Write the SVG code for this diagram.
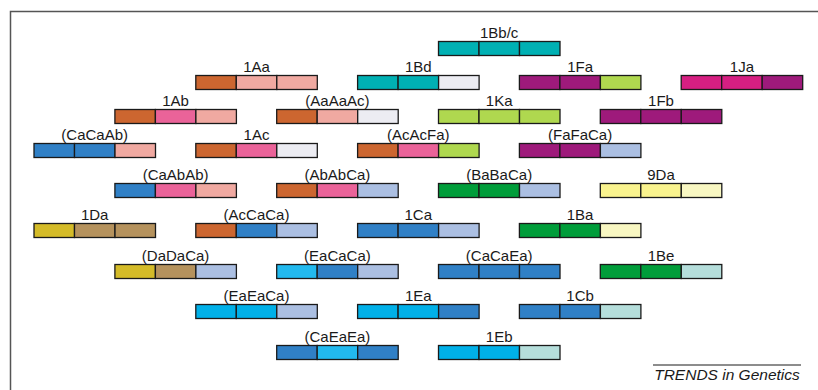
<svg xmlns="http://www.w3.org/2000/svg" width="818" height="390" viewBox="0 0 818 390">
<style>
text{font-family:"Liberation Sans",Arial,sans-serif;font-size:15px;fill:#1a1a1a;text-anchor:middle}
rect{stroke:#1a1a1a;stroke-width:1.3}
.or{fill:#cc6630}.sa{fill:#f0a9a1}.pk{fill:#ea6399}.gw{fill:#ececf2}
.te{fill:#00b0b3}.pu{fill:#9e1a7b}.li{fill:#afd84f}.mg{fill:#d61f82}
.bl{fill:#3080c6}.lv{fill:#abbfe2}.gr{fill:#009d3a}.ye{fill:#f9f38e}.py{fill:#f8f7c2}
.mu{fill:#d4bb28}.tn{fill:#b5925d}.cy{fill:#00b0e8}.lc{fill:#22b9ee}.pt{fill:#b5dedb}
</style>
<g id="frame" fill="none" stroke="#555" stroke-width="1.5">
<path d="M10.5 390V11.5H818"/>
</g>
<g id="connectors"></g>
<g id="n1Bbc"><text x="499.2" y="38">1Bb/c</text><rect class="te" x="438.5" y="41.5" width="40.5" height="14"/><rect class="te" x="479" y="41.5" width="40.5" height="14"/><rect class="te" x="519.5" y="41.5" width="40.5" height="14"/></g>
<g id="n1Aa"><text x="256.5" y="72">1Aa</text><rect class="or" x="195.8" y="75.5" width="40.5" height="14"/><rect class="sa" x="236.3" y="75.5" width="40.5" height="14"/><rect class="sa" x="276.8" y="75.5" width="40.5" height="14"/></g>
<g id="n1Bd"><text x="418.3" y="72">1Bd</text><rect class="te" x="357.6" y="75.5" width="40.5" height="14"/><rect class="te" x="398.1" y="75.5" width="40.5" height="14"/><rect class="gw" x="438.6" y="75.5" width="40.5" height="14"/></g>
<g id="n1Fa"><text x="580.1" y="72">1Fa</text><rect class="pu" x="519.4" y="75.5" width="40.5" height="14"/><rect class="pu" x="559.9" y="75.5" width="40.5" height="14"/><rect class="li" x="600.4" y="75.5" width="40.5" height="14"/></g>
<g id="n1Ja"><text x="741.9" y="72">1Ja</text><rect class="mg" x="681.2" y="75.5" width="40.5" height="14"/><rect class="mg" x="721.7" y="75.5" width="40.5" height="14"/><rect class="pu" x="762.2" y="75.5" width="40.5" height="14"/></g>
<g id="n1Ab"><text x="175.6" y="106">1Ab</text><rect class="or" x="114.9" y="109.5" width="40.5" height="14"/><rect class="pk" x="155.4" y="109.5" width="40.5" height="14"/><rect class="sa" x="195.9" y="109.5" width="40.5" height="14"/></g>
<g id="nAaAaAc"><text x="337.4" y="106">(AaAaAc)</text><rect class="or" x="276.7" y="109.5" width="40.5" height="14"/><rect class="sa" x="317.2" y="109.5" width="40.5" height="14"/><rect class="gw" x="357.7" y="109.5" width="40.5" height="14"/></g>
<g id="n1Ka"><text x="499.2" y="106">1Ka</text><rect class="li" x="438.5" y="109.5" width="40.5" height="14"/><rect class="li" x="479" y="109.5" width="40.5" height="14"/><rect class="li" x="519.5" y="109.5" width="40.5" height="14"/></g>
<g id="n1Fb"><text x="661" y="106">1Fb</text><rect class="pu" x="600.3" y="109.5" width="40.5" height="14"/><rect class="pu" x="640.8" y="109.5" width="40.5" height="14"/><rect class="pu" x="681.3" y="109.5" width="40.5" height="14"/></g>
<g id="nCaCaAb"><text x="94.7" y="140">(CaCaAb)</text><rect class="bl" x="34" y="143.5" width="40.5" height="14"/><rect class="bl" x="74.5" y="143.5" width="40.5" height="14"/><rect class="sa" x="115" y="143.5" width="40.5" height="14"/></g>
<g id="n1Ac"><text x="256.5" y="140">1Ac</text><rect class="or" x="195.8" y="143.5" width="40.5" height="14"/><rect class="pk" x="236.3" y="143.5" width="40.5" height="14"/><rect class="gw" x="276.8" y="143.5" width="40.5" height="14"/></g>
<g id="nAcAcFa"><text x="418.3" y="140">(AcAcFa)</text><rect class="or" x="357.6" y="143.5" width="40.5" height="14"/><rect class="pk" x="398.1" y="143.5" width="40.5" height="14"/><rect class="li" x="438.6" y="143.5" width="40.5" height="14"/></g>
<g id="nFaFaCa"><text x="580.1" y="140">(FaFaCa)</text><rect class="pu" x="519.4" y="143.5" width="40.5" height="14"/><rect class="pu" x="559.9" y="143.5" width="40.5" height="14"/><rect class="lv" x="600.4" y="143.5" width="40.5" height="14"/></g>
<g id="nCaAbAb"><text x="175.6" y="180">(CaAbAb)</text><rect class="bl" x="114.9" y="183.5" width="40.5" height="14"/><rect class="pk" x="155.4" y="183.5" width="40.5" height="14"/><rect class="sa" x="195.9" y="183.5" width="40.5" height="14"/></g>
<g id="nAbAbCa"><text x="337.4" y="180">(AbAbCa)</text><rect class="or" x="276.7" y="183.5" width="40.5" height="14"/><rect class="pk" x="317.2" y="183.5" width="40.5" height="14"/><rect class="lv" x="357.7" y="183.5" width="40.5" height="14"/></g>
<g id="nBaBaCa"><text x="499.2" y="180">(BaBaCa)</text><rect class="gr" x="438.5" y="183.5" width="40.5" height="14"/><rect class="gr" x="479" y="183.5" width="40.5" height="14"/><rect class="lv" x="519.5" y="183.5" width="40.5" height="14"/></g>
<g id="n9Da"><text x="661" y="180">9Da</text><rect class="ye" x="600.3" y="183.5" width="40.5" height="14"/><rect class="ye" x="640.8" y="183.5" width="40.5" height="14"/><rect class="py" x="681.3" y="183.5" width="40.5" height="14"/></g>
<g id="n1Da"><text x="94.7" y="220">1Da</text><rect class="mu" x="34" y="223.5" width="40.5" height="14"/><rect class="tn" x="74.5" y="223.5" width="40.5" height="14"/><rect class="tn" x="115" y="223.5" width="40.5" height="14"/></g>
<g id="nAcCaCa"><text x="256.5" y="220">(AcCaCa)</text><rect class="or" x="195.8" y="223.5" width="40.5" height="14"/><rect class="bl" x="236.3" y="223.5" width="40.5" height="14"/><rect class="lv" x="276.8" y="223.5" width="40.5" height="14"/></g>
<g id="n1Ca"><text x="418.3" y="220">1Ca</text><rect class="bl" x="357.6" y="223.5" width="40.5" height="14"/><rect class="bl" x="398.1" y="223.5" width="40.5" height="14"/><rect class="lv" x="438.6" y="223.5" width="40.5" height="14"/></g>
<g id="n1Ba"><text x="580.1" y="220">1Ba</text><rect class="gr" x="519.4" y="223.5" width="40.5" height="14"/><rect class="gr" x="559.9" y="223.5" width="40.5" height="14"/><rect class="py" x="600.4" y="223.5" width="40.5" height="14"/></g>
<g id="nDaDaCa"><text x="175.6" y="261">(DaDaCa)</text><rect class="mu" x="114.9" y="264.5" width="40.5" height="14"/><rect class="tn" x="155.4" y="264.5" width="40.5" height="14"/><rect class="lv" x="195.9" y="264.5" width="40.5" height="14"/></g>
<g id="nEaCaCa"><text x="337.4" y="261">(EaCaCa)</text><rect class="lc" x="276.7" y="264.5" width="40.5" height="14"/><rect class="bl" x="317.2" y="264.5" width="40.5" height="14"/><rect class="lv" x="357.7" y="264.5" width="40.5" height="14"/></g>
<g id="nCaCaEa"><text x="499.2" y="261">(CaCaEa)</text><rect class="bl" x="438.5" y="264.5" width="40.5" height="14"/><rect class="bl" x="479" y="264.5" width="40.5" height="14"/><rect class="bl" x="519.5" y="264.5" width="40.5" height="14"/></g>
<g id="n1Be"><text x="661" y="261">1Be</text><rect class="gr" x="600.3" y="264.5" width="40.5" height="14"/><rect class="gr" x="640.8" y="264.5" width="40.5" height="14"/><rect class="pt" x="681.3" y="264.5" width="40.5" height="14"/></g>
<g id="nEaEaCa"><text x="256.5" y="301">(EaEaCa)</text><rect class="cy" x="195.8" y="304.5" width="40.5" height="14"/><rect class="cy" x="236.3" y="304.5" width="40.5" height="14"/><rect class="lv" x="276.8" y="304.5" width="40.5" height="14"/></g>
<g id="n1Ea"><text x="418.3" y="301">1Ea</text><rect class="cy" x="357.6" y="304.5" width="40.5" height="14"/><rect class="cy" x="398.1" y="304.5" width="40.5" height="14"/><rect class="bl" x="438.6" y="304.5" width="40.5" height="14"/></g>
<g id="n1Cb"><text x="580.1" y="301">1Cb</text><rect class="bl" x="519.4" y="304.5" width="40.5" height="14"/><rect class="bl" x="559.9" y="304.5" width="40.5" height="14"/><rect class="pt" x="600.4" y="304.5" width="40.5" height="14"/></g>
<g id="nCaEaEa"><text x="337.4" y="342">(CaEaEa)</text><rect class="bl" x="276.7" y="345.5" width="40.5" height="14"/><rect class="lc" x="317.2" y="345.5" width="40.5" height="14"/><rect class="bl" x="357.7" y="345.5" width="40.5" height="14"/></g>
<g id="n1Eb"><text x="499.2" y="342">1Eb</text><rect class="cy" x="438.5" y="345.5" width="40.5" height="14"/><rect class="cy" x="479" y="345.5" width="40.5" height="14"/><rect class="pt" x="519.5" y="345.5" width="40.5" height="14"/></g>
<g id="credit"><path d="M653 365H801" stroke="#1a1a1a" stroke-width="1"/><text x="727" y="379.5" style="font-style:italic;font-size:15.5px">TRENDS in Genetics</text></g>
</svg>
